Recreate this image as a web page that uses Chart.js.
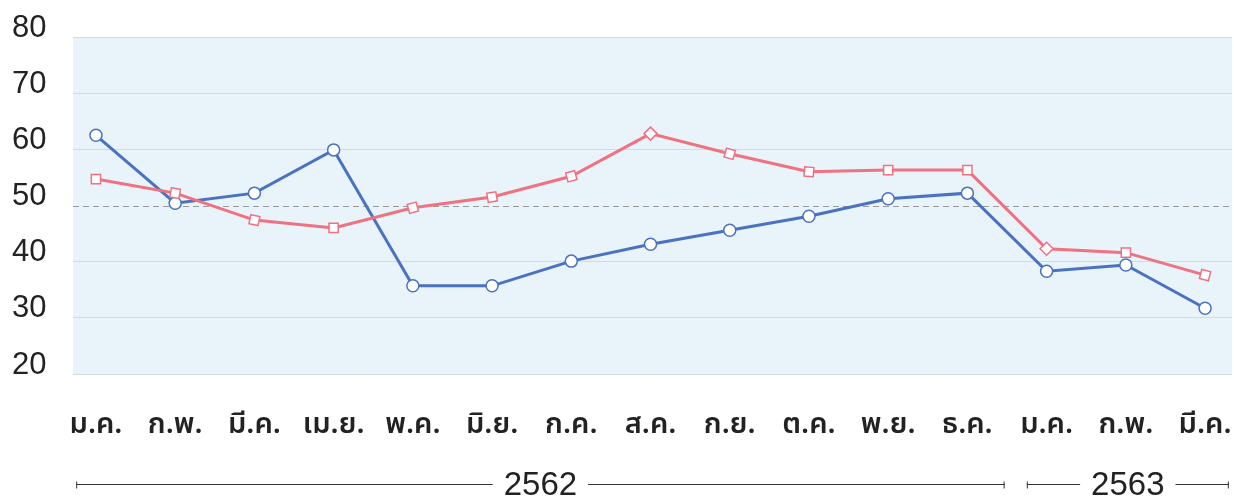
<!DOCTYPE html>
<html>
<head>
<meta charset="utf-8">
<script src="https://cdn.jsdelivr.net/npm/chart.js@4.4.1/dist/chart.umd.min.js"></script>
<style>
  html, body { margin: 0; padding: 0; background: #fff; }
  #wrap { width: 1234px; height: 497px; }
</style>
</head>
<body>
<div id="wrap"><canvas id="myChart"></canvas></div>
<script>
  // Data
  const months = ['ม.ค.', 'ก.พ.', 'มี.ค.', 'เม.ย.', 'พ.ค.', 'มิ.ย.', 'ก.ค.', 'ส.ค.', 'ก.ย.', 'ต.ค.', 'พ.ย.', 'ธ.ค.', 'ม.ค.', 'ก.พ.', 'มี.ค.']
  const blueValues = [62.5, 50.4, 52.2, 59.9, 35.7, 35.7, 40.1, 43.1, 45.6, 48.1, 51.2, 52.2, 38.3, 39.4, 31.7]
  const pinkValues = [54.7, 52.2, 47.4, 46.0, 49.6, 51.5, 55.2, 62.8, 59.2, 56.0, 56.3, 56.3, 42.3, 41.6, 37.6]
  const yTicks = [20, 30, 40, 50, 60, 70, 80]
  const refLine = 50
  const years = ['2562', '2563']
  const yearFirst = [0, 12]
  const yearLast = [11, 14]

  const BLUE = '#4a72c0'
  const PINK = '#f07180'
  const NUM_FONT = "'Liberation Sans', Arial, sans-serif"
  const pinkRotation = [0, 10, 12, 0, -15, -10, -15, 45, 15, 5, 0, 0, 45, 0, 15]

  const toPoints = vals => vals.map((v, i) => ({ x: i, y: v }))

  // background, reference line and year brackets
  const decor = {
    id: 'decor',
    beforeDraw (chart) {
      const { ctx, chartArea: a } = chart
      ctx.save()
      ctx.fillStyle = '#e8f3fa'
      ctx.fillRect(a.left, a.top, a.right - a.left, a.bottom - a.top)
      ctx.restore()
    },
    beforeDatasetsDraw (chart) {
      const { ctx, chartArea: a, scales } = chart
      const y = Math.round(scales.y.getPixelForValue(refLine)) + 0.5
      ctx.save()
      ctx.strokeStyle = '#9a9a9a'
      ctx.lineWidth = 1
      ctx.setLineDash([6, 4])
      ctx.beginPath()
      ctx.moveTo(a.left, y)
      ctx.lineTo(a.right, y)
      ctx.stroke()
      ctx.restore()
    },
    afterDraw (chart) {
      const { ctx, chartArea: a, scales } = chart
      const x = scales.x
      const y = Math.round(a.bottom + 110) + 0.5
      ctx.save()
      ctx.font = '33px ' + NUM_FONT
      ctx.fillStyle = '#222'
      ctx.strokeStyle = '#333'
      ctx.lineWidth = 1
      ctx.textAlign = 'center'
      ctx.textBaseline = 'middle'
      years.forEach((yr, k) => {
        const last = k === years.length - 1
        const x1 = x.getPixelForValue(yearFirst[k] - 0.25)
        const x2 = x.getPixelForValue(yearLast[k] + (last ? 0.3 : 0.47))
        const cx = (x1 + x2) / 2
        const half = ctx.measureText(yr).width / 2 + 11
        ctx.beginPath()
        ctx.moveTo(x1, y); ctx.lineTo(cx - half, y)
        ctx.moveTo(cx + half, y); ctx.lineTo(x2, y)
        ctx.moveTo(x1 + 0.5, y - 3); ctx.lineTo(x1 + 0.5, y + 4)
        ctx.moveTo(x2 - 0.5, y - 3); ctx.lineTo(x2 - 0.5, y + 4)
        ctx.stroke()
        ctx.fillText(yr, cx, y + 1)
      })
      ctx.restore()
    }
  }

  const ctx = document.getElementById('myChart')
  // eslint-disable-next-line no-unused-vars
  const myChart = new Chart(ctx, {
    type: 'line',
    data: {
      datasets: [{
        data: toPoints(pinkValues),
        borderColor: PINK,
        borderWidth: 3,
        lineTension: 0,
        pointStyle: 'rect',
        pointRadius: 6.5,
        pointRotation: pinkRotation,
        pointBackgroundColor: '#fff',
        pointBorderColor: PINK,
        pointBorderWidth: 1.5
      }, {
        data: toPoints(blueValues),
        borderColor: BLUE,
        borderWidth: 3,
        lineTension: 0,
        pointStyle: 'circle',
        pointRadius: 6,
        pointBackgroundColor: '#fff',
        pointBorderColor: BLUE,
        pointBorderWidth: 1.5
      }]
    },
    options: {
      responsive: true,
      maintainAspectRatio: false,
      animation: false,
      layout: { autoPadding: false, padding: { left: 12, right: 2, top: 37, bottom: 0 } },
      plugins: {
        legend: { display: false },
        tooltip: { enabled: false }
      },
      scales: {
        x: {
          type: 'linear',
          min: -0.29,
          max: 14.34,
          afterBuildTicks: axis => { axis.ticks = months.map((_, i) => ({ value: i })) },
          afterFit: scale => {
            scale.height = 123
            scale.paddingLeft = 0
            scale.paddingRight = 0
          },
          grid: { display: false, drawTicks: false },
          border: { display: false },
          ticks: {
            autoSkip: false,
            maxRotation: 0,
            padding: 36,
            color: '#222',
            font: { family: "'Noto Sans Thai', 'Loma', 'Garuda', sans-serif", size: 29, weight: '600' },
            callback: v => months[v]
          }
        },
        y: {
          min: 20,
          max: 80,
          afterBuildTicks: axis => { axis.ticks = yTicks.map(v => ({ value: v })) },
          afterFit: scale => { scale.width = 61 },
          grid: {
            drawTicks: false,
            lineWidth: 1,
            color: c => c.tick && c.tick.value === refLine ? 'rgba(0,0,0,0)' : '#d3dae2'
          },
          border: { display: false },
          ticks: {
            crossAlign: 'far',
            labelOffset: -9,
            padding: 0,
            color: '#222',
            font: { family: NUM_FONT, size: 31 }
          }
        }
      }
    },
    plugins: [decor]
  })
</script>
</body>
</html>
